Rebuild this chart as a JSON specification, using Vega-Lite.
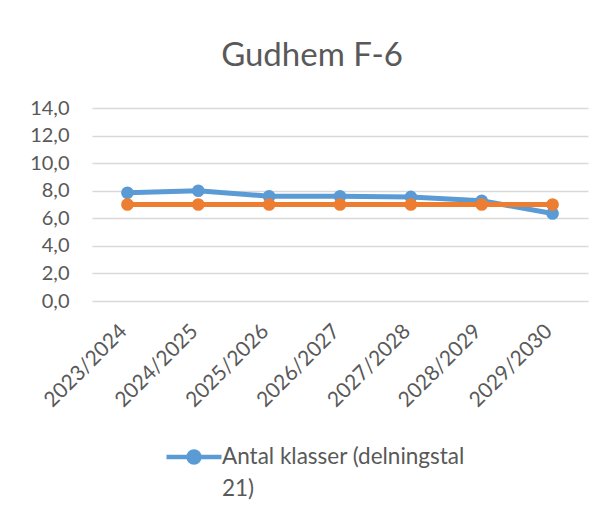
{
  "$schema": "https://vega.github.io/schema/vega-lite/v6.json",
  "width": 496,
  "height": 193,
  "autosize": "none",
  "padding": {"left": 92, "top": 108, "right": 21, "bottom": 225},
  "background": "white",
  "title": {
    "text": "Gudhem F-6",
    "font": "Lato",
    "fontSize": 33,
    "fontWeight": "normal",
    "color": "#595959",
    "anchor": "middle",
    "dx": -28,
    "offset": 25
  },
  "data": {
    "values": [
      {"year": "2023/2024", "serie": "Antal klasser (delningstal 21)", "value": 7.85},
      {"year": "2024/2025", "serie": "Antal klasser (delningstal 21)", "value": 8.0},
      {"year": "2025/2026", "serie": "Antal klasser (delningstal 21)", "value": 7.6},
      {"year": "2026/2027", "serie": "Antal klasser (delningstal 21)", "value": 7.6},
      {"year": "2027/2028", "serie": "Antal klasser (delningstal 21)", "value": 7.55},
      {"year": "2028/2029", "serie": "Antal klasser (delningstal 21)", "value": 7.27},
      {"year": "2029/2030", "serie": "Antal klasser (delningstal 21)", "value": 6.35},
      {"year": "2023/2024", "serie": "Antal klassrum", "value": 7},
      {"year": "2024/2025", "serie": "Antal klassrum", "value": 7},
      {"year": "2025/2026", "serie": "Antal klassrum", "value": 7},
      {"year": "2026/2027", "serie": "Antal klassrum", "value": 7},
      {"year": "2027/2028", "serie": "Antal klassrum", "value": 7},
      {"year": "2028/2029", "serie": "Antal klassrum", "value": 7},
      {"year": "2029/2030", "serie": "Antal klassrum", "value": 7}
    ]
  },
  "encoding": {
    "x": {
      "field": "year",
      "type": "nominal",
      "scale": {"type": "point", "padding": 0.5},
      "title": null,
      "axis": {
        "labelAngle": -45,
        "labelAlign": "right",
        "labelBaseline": "middle",
        "labelPadding": 27,
        "labelOffset": -4,
        "domain": false,
        "ticks": false,
        "grid": false,
        "labelFont": "Lato",
        "labelFontSize": 21,
        "labelColor": "#595959"
      }
    },
    "y": {
      "field": "value",
      "type": "quantitative",
      "scale": {"domain": [0, 14], "nice": false},
      "title": null,
      "axis": {
        "values": [0, 2, 4, 6, 8, 10, 12, 14],
        "labelExpr": "replace(format(datum.value, '.1f'), '.', ',')",
        "domain": false,
        "ticks": false,
        "gridColor": "#D9D9D9",
        "gridWidth": 1.3,
        "labelPadding": 23,
        "labelFont": "Lato",
        "labelFontSize": 20,
        "labelColor": "#595959"
      }
    },
    "color": {
      "field": "serie",
      "type": "nominal",
      "scale": {
        "domain": ["Antal klasser (delningstal 21)", "Antal klassrum"],
        "range": ["#5B9BD5", "#ED7D31"]
      },
      "legend": {
        "values": ["Antal klasser (delningstal 21)"],
        "title": null,
        "orient": "none",
        "legendX": 72,
        "legendY": 319,
        "symbolType": "M -1 0 L 1 0 M -0.2 0 A 0.2 0.2 0 1 0 0.2 0 A 0.2 0.2 0 1 0 -0.2 0",
        "symbolSize": 3025,
        "symbolStrokeWidth": 4.5,
        "symbolFillColor": "#5B9BD5",
        "symbolStrokeColor": "#5B9BD5",
        "labelFont": "Lato",
        "labelFontSize": 22.5,
        "labelColor": "#595959",
        "labelLimit": 400,
        "labelOffset": -2,
        "labelExpr": "datum.label == 'Antal klasser (delningstal 21)' ? ['Antal klasser (delningstal', '21)'] : datum.label"
      }
    }
  },
  "layer": [
    {
      "transform": [{"filter": "datum.serie == 'Antal klasser (delningstal 21)'"}],
      "mark": {"type": "line", "strokeWidth": 5}
    },
    {
      "transform": [{"filter": "datum.serie == 'Antal klasser (delningstal 21)'"}],
      "mark": {"type": "point", "filled": true, "opacity": 1, "size": 160}
    },
    {
      "transform": [{"filter": "datum.serie == 'Antal klassrum'"}],
      "mark": {"type": "line", "strokeWidth": 5}
    },
    {
      "transform": [{"filter": "datum.serie == 'Antal klassrum'"}],
      "mark": {"type": "point", "filled": true, "opacity": 1, "size": 160}
    }
  ],
  "config": {
    "view": {"stroke": null},
    "style": {"guide-label": {"lineHeight": 32}}
  }
}
